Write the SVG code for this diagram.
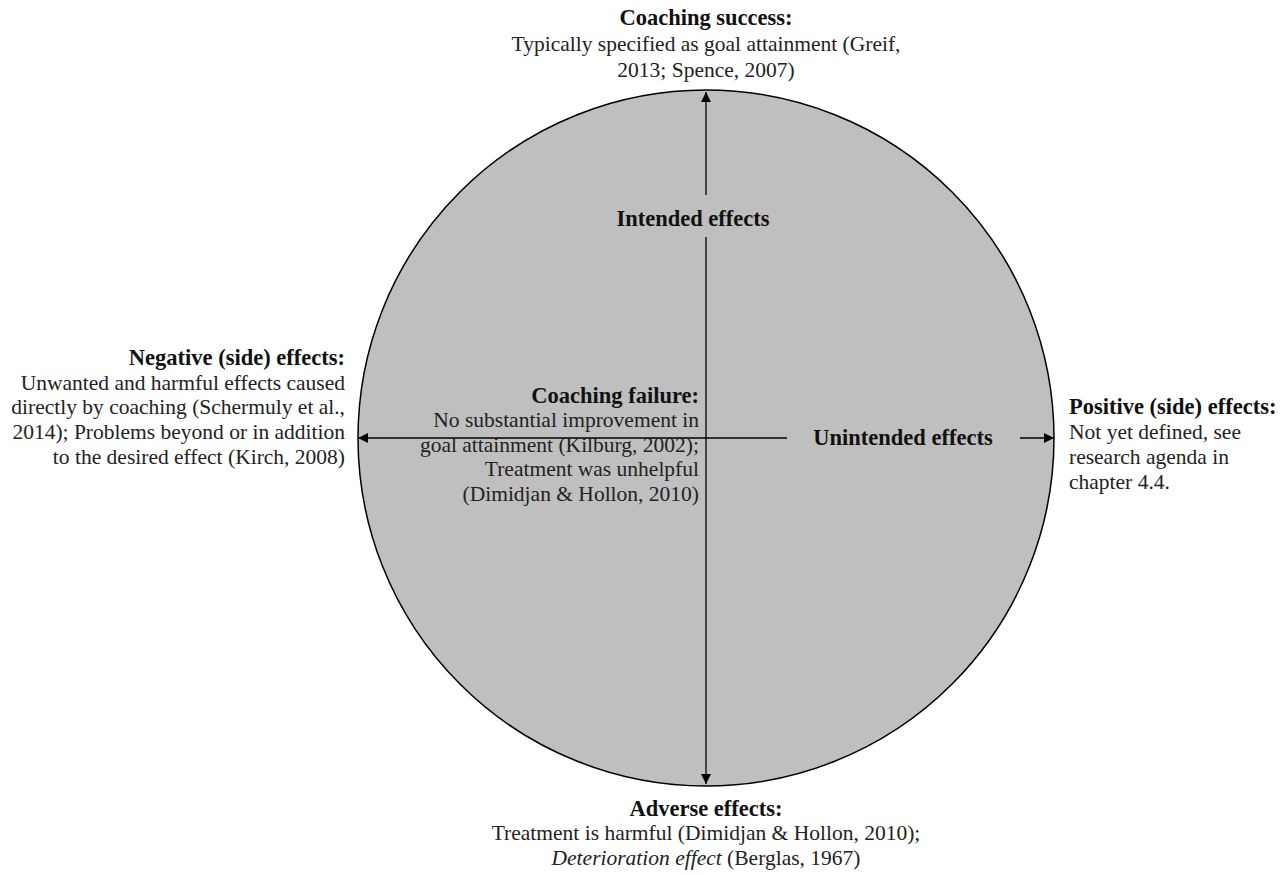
<svg xmlns="http://www.w3.org/2000/svg" width="1287" height="875" viewBox="0 0 1287 875">
<style>
text{font-family:"Liberation Serif","Times New Roman",serif;font-size:21.5px;fill:#222}
.b{font-weight:bold;font-size:22.5px;fill:#111}
.c{text-anchor:middle}
.r{text-anchor:end}
.ln{stroke:#000;stroke-width:1.3;fill:none}
</style>
<defs>
<marker id="ah" viewBox="0 0 10 10" refX="10" refY="5" markerWidth="10" markerHeight="10" markerUnits="userSpaceOnUse" orient="auto">
<path d="M0,0 L10,5 L0,10 z" fill="#000"/>
</marker>
</defs>
<rect width="1287" height="875" fill="#fff"/>
<g id="circle">
<circle cx="706" cy="438" r="348" fill="#bfbfbf" stroke="#000" stroke-width="1.5"/>
</g>
<g id="connectors">
<line class="ln" x1="706" y1="195" x2="706" y2="92" marker-end="url(#ah)"/>
<line class="ln" x1="706" y1="237" x2="706" y2="784" marker-end="url(#ah)"/>
<line class="ln" x1="787" y1="438" x2="358" y2="438" marker-end="url(#ah)"/>
<line class="ln" x1="1020" y1="438" x2="1054" y2="438" marker-end="url(#ah)"/>
</g>
<g id="intended">
<text class="b c" x="693" y="226">Intended effects</text>
</g>
<g id="unintended">
<text class="b c" x="903" y="445">Unintended effects</text>
</g>
<g id="success">
<text class="b c" x="706" y="25">Coaching success:</text>
<text class="c" x="706" y="51">Typically specified as goal attainment (Greif,</text>
<text class="c" x="706" y="77">2013; Spence, 2007)</text>
</g>
<g id="failure">
<text class="b r" x="699" y="403">Coaching failure:</text>
<text class="r" x="699" y="427">No substantial improvement in</text>
<text class="r" x="699" y="452">goal attainment (Kilburg, 2002);</text>
<text class="r" x="699" y="476">Treatment was unhelpful</text>
<text class="r" x="699" y="501">(Dimidjan &amp; Hollon, 2010)</text>
</g>
<g id="negative">
<text class="b r" x="345" y="365">Negative (side) effects:</text>
<text class="r" x="345" y="390">Unwanted and harmful effects caused</text>
<text class="r" x="345" y="414">directly by coaching (Schermuly et al.,</text>
<text class="r" x="345" y="439">2014); Problems beyond or in addition</text>
<text class="r" x="345" y="464">to the desired effect (Kirch, 2008)</text>
</g>
<g id="positive">
<text class="b" x="1069" y="414">Positive (side) effects:</text>
<text x="1069" y="439">Not yet defined, see</text>
<text x="1069" y="464">research agenda in</text>
<text x="1069" y="489">chapter 4.4.</text>
</g>
<g id="adverse">
<text class="b c" x="706" y="816">Adverse effects:</text>
<text class="c" x="706" y="840">Treatment is harmful (Dimidjan &amp; Hollon, 2010);</text>
<text class="c" x="706" y="865"><tspan font-style="italic">Deterioration effect</tspan> (Berglas, 1967)</text>
</g>
</svg>
